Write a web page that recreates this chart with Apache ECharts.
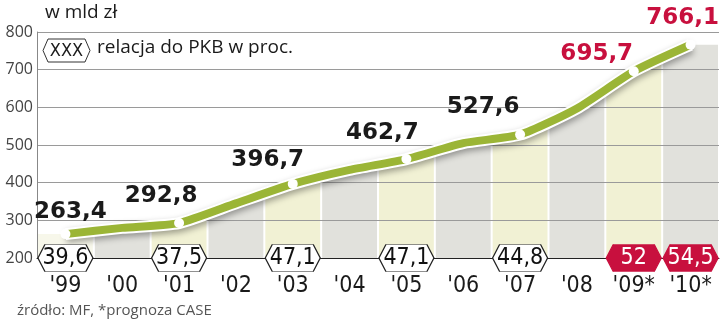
<!DOCTYPE html>
<html>
<head>
<meta charset="utf-8">
<script src="https://cdn.jsdelivr.net/npm/echarts@6/dist/echarts.min.js"></script>
<style>
html,body{margin:0;padding:0;background:#fff;}
#c{width:720px;height:324px;}
</style>
</head>
<body>
<div id="c"></div>
<script>
// ---- data ----
var categories = ["'99", "'00", "'01", "'02", "'03", "'04", "'05", "'06", "'07", "'08", "'09*", "'10*"];
var debt = [263.4, 280, 292.8, 345, 396.7, 434, 462.7, 505, 527.6, 597, 695.7, 766.1];
var shown = [true, false, true, false, true, false, true, false, true, false, true, true];
var ratio = [39.6, null, 37.5, null, 47.1, null, 47.1, null, 44.8, null, 52, 54.5];
var yTicks = { min: 200, max: 800, step: 100 };

// ---- styling ----
var GREEN = '#9bb536';
var RED = '#c8103e';
var COLA = '#f1f1d4';
var COLB = '#e1e1dc';
var NARROW = '"Liberation Sans Narrow","DejaVu Sans Condensed","Roboto Condensed",sans-serif';
var SANS = '"Open Sans", Roboto, sans-serif';
var labelOffsets = [[5, -22], null, [-18, -27], null, [-25, -24], null, [-24, -26], null, [-37, -28], null, [-37, -17], [-8, -27]];

function fmt(v) { return String(v).replace('.', ','); }
function isForecast(i) { return categories[i].indexOf('*') >= 0; }

var chart = echarts.init(document.getElementById('c'), null, { renderer: 'canvas' });

var columnSeries = {
  type: 'custom',
  z: -1,
  silent: true,
  data: debt.map(function (v, i) { return [i, v]; }),
  renderItem: function (params, api) {
    var i = api.value(0);
    var v = debt[i];
    var vl = i > 0 ? (debt[i - 1] + v) / 2 : v;
    var vr = i < debt.length - 1 ? (debt[i + 1] + v) / 2 : v;
    var c = api.coord([i, v]);
    var bw = api.size([1, 0])[0];
    var xl = c[0] - bw / 2 + 1;
    var xr = c[0] + bw / 2 - 1;
    var yl = api.coord([i, vl])[1];
    var yr = api.coord([i, vr])[1];
    var yb = api.coord([i, yTicks.min])[1];
    var color = i % 2 === 0 ? COLA : COLB;
    if (i === 0) color = '#f7f7ea';
    return {
      type: 'polygon',
      shape: { points: [[xl, yl], [c[0], c[1]], [xr, yr], [xr, yb], [xl, yb]] },
      style: { fill: color }
    };
  }
};

var hexPath = 'path://M0,13.5 L7,0 L48,0 L55,13.5 L48,27 L7,27 Z';

var hexData = [];
ratio.forEach(function (r, i) {
  if (r === null) return;
  var f = isForecast(i);
  hexData.push({
    value: [i, yTicks.min],
    itemStyle: { color: f ? RED : '#fff', borderColor: f ? RED : '#222', borderWidth: 1, opacity: 1 },
    label: { color: f ? '#fff' : '#111', formatter: fmt(r) }
  });
});

var pointData = [];
debt.forEach(function (v, i) {
  if (!shown[i]) return;
  var f = isForecast(i);
  var off = labelOffsets[i];
  pointData.push({
    value: [i, v],
    label: { offset: off, color: f ? RED : '#1a1a1a', formatter: fmt(v) }
  });
});

var option = {
  animation: false,
  grid: { left: 37, right: 1, top: 32, bottom: 66 },
  xAxis: {
    type: 'category',
    data: categories,
    boundaryGap: true,
    axisLine: { show: true, lineStyle: { color: '#222', width: 1 } },
    axisTick: { show: false },
    axisLabel: { color: '#1a1a1a', fontSize: 23, fontFamily: NARROW, margin: 17 },
    splitLine: { show: false }
  },
  yAxis: {
    type: 'value',
    min: yTicks.min, max: yTicks.max, interval: yTicks.step,
    axisLine: { show: true, lineStyle: { color: '#888', width: 1 } },
    axisTick: { show: false },
    axisLabel: { color: '#444', fontSize: 16, fontFamily: SANS, margin: 4 },
    splitLine: { show: true, lineStyle: { color: '#9a9a9a', width: 1 } }
  },
  series: [
    columnSeries,
    {
      type: 'line',
      data: debt,
      smooth: 0.2,
      symbol: 'none',
      silent: true,
      z: 3,
      lineStyle: { color: '#fff', width: 12, shadowColor: 'rgba(0,0,0,0.35)', shadowBlur: 6, shadowOffsetY: 3, shadowOffsetX: 1 }
    },
    {
      type: 'line',
      data: debt,
      smooth: 0.2,
      symbol: 'none',
      silent: true,
      z: 4,
      lineStyle: { color: GREEN, width: 8 }
    },
    {
      type: 'scatter',
      data: pointData,
      symbol: 'circle',
      symbolSize: 10,
      z: 5,
      itemStyle: { color: '#fff', opacity: 1 },
      label: {
        show: true, position: 'inside', opacity: 1,
        fontFamily: '"DejaVu Sans", sans-serif', fontWeight: 'bold', fontSize: 23
      }
    },
    {
      type: 'scatter',
      data: hexData,
      symbol: hexPath,
      symbolSize: [55, 27],
      clip: false,
      z: 6,
      label: { show: true, position: 'inside', opacity: 1, fontSize: 23, fontFamily: NARROW }
    }
  ],
  graphic: [
    { type: 'text', left: 45, top: 3, style: { text: 'w mld zł', font: '19px ' + SANS, fill: '#1a1a1a' } },
    { type: 'polygon', shape: { points: [[43, 50.5], [48, 39], [85, 39], [90, 50.5], [85, 62], [48, 62]] },
      style: { fill: '#fff', stroke: '#333', lineWidth: 1 }, z: 10 },
    { type: 'text', x: 66.5, y: 51, style: { text: 'XXX', font: '18px ' + NARROW, fill: '#1a1a1a', align: 'center', verticalAlign: 'middle' }, z: 11 },
    { type: 'text', left: 97, top: 38, style: { text: 'relacja do PKB w proc.', font: '19px ' + SANS, fill: '#1a1a1a' }, z: 11 },
    { type: 'text', left: 17, top: 303, style: { text: 'źródło: MF, *prognoza CASE', font: '15px ' + SANS, fill: '#555' } }
  ]
};
chart.setOption(option);
</script>
</body>
</html>
